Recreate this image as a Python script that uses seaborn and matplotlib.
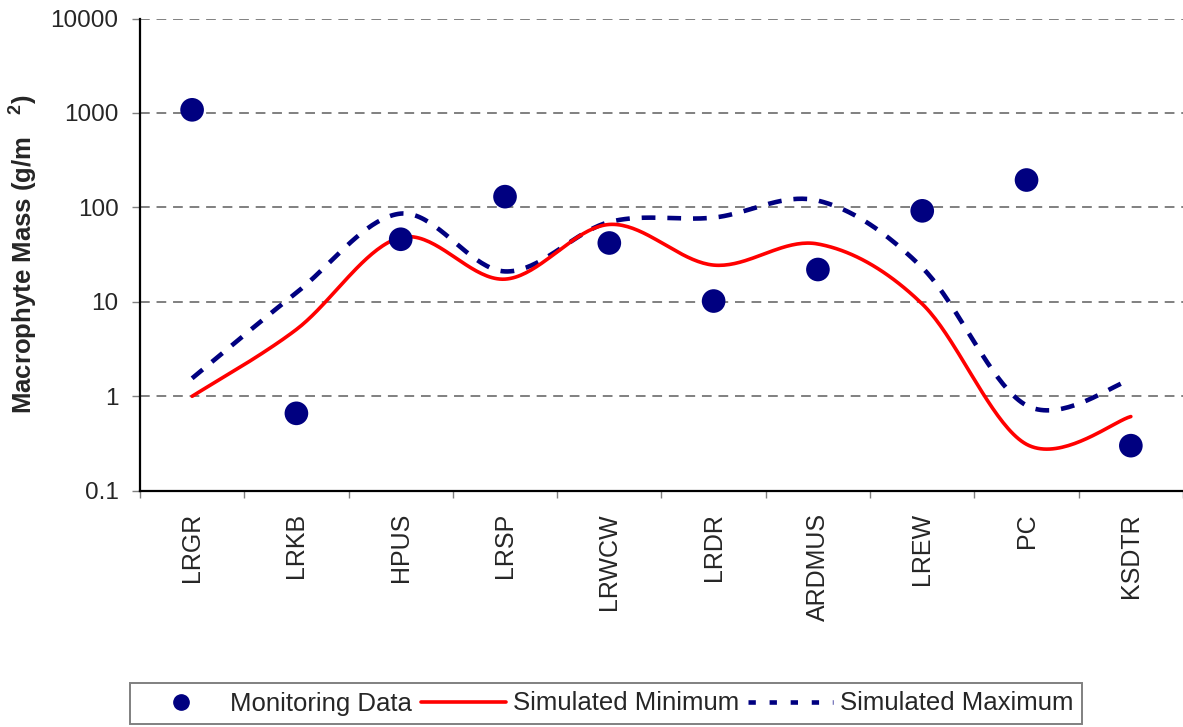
import numpy as np
import pandas as pd
import matplotlib
matplotlib.use("Agg")
import matplotlib.pyplot as plt
from matplotlib.lines import Line2D
import seaborn as sns

# Sampling sites along the river
sites = ["LRGR", "LRKB", "HPUS", "LRSP", "LRWCW", "LRDR", "ARDMUS", "LREW", "PC", "KSDTR"]

# Macrophyte mass, g/m2
monitoring = [1080, 0.66, 46, 130, 42, 10.2, 22, 92, 195, 0.30]
sim_min = [1.0, 5.1, 48, 17.4, 66, 24.5, 41, 9.5, 0.31, 0.61]
sim_max = [1.55, 12.5, 86, 21, 70, 78, 118, 23, 0.80, 1.5]

y_ticks = [0.1, 1, 10, 100, 1000, 10000]
y_ticklabels = ["0.1", "1", "10", "100", "1000", "10000"]

NAVY = "#000080"
RED = "#FF0000"


def smooth_log(values, n=40):
    """Catmull-Rom smoothing in (position, log10 value) space."""
    x = np.arange(len(values), dtype=float)
    y = np.log10(np.asarray(values, dtype=float))
    px = np.concatenate([[x[0]], x, [x[-1]]])
    py = np.concatenate([[y[0]], y, [y[-1]]])
    xs, ys = [], []
    for i in range(1, len(px) - 2):
        p0, p1, p2, p3 = (np.array([px[j], py[j]]) for j in (i - 1, i, i + 1, i + 2))
        c1 = p1 + (p2 - p0) / 6.0
        c2 = p2 - (p3 - p1) / 6.0
        t = np.linspace(0, 1, n, endpoint=(i == len(px) - 3))[:, None]
        b = ((1 - t) ** 3) * p1 + 3 * ((1 - t) ** 2) * t * c1 + 3 * (1 - t) * t ** 2 * c2 + t ** 3 * p2
        xs.append(b[:, 0])
        ys.append(b[:, 1])
    return np.concatenate(xs), 10 ** np.concatenate(ys)


sns.set_theme(style="white")
plt.rcParams["font.family"] = ["Liberation Sans", "DejaVu Sans"]
plt.rcParams["mathtext.fontset"] = "custom"
plt.rcParams["mathtext.rm"] = "Liberation Sans:bold"
plt.rcParams["mathtext.bf"] = "Liberation Sans:bold"

fig = plt.figure(figsize=(11.83, 7.27), dpi=100)
ax = fig.add_axes([0.1183, 0.325, 0.8817, 0.6495])

mx, my = smooth_log(sim_max)
nx, ny = smooth_log(sim_min)
df_max = pd.DataFrame({"x": mx, "y": my})
df_min = pd.DataFrame({"x": nx, "y": ny})
df_obs = pd.DataFrame({"x": np.arange(len(sites)), "y": monitoring})

sns.lineplot(data=df_max, x="x", y="y", ax=ax, color=NAVY, linewidth=3.3,
             sort=False, estimator=None, zorder=3)
ax.lines[-1].set_dashes([3.0, 2.6])
sns.lineplot(data=df_min, x="x", y="y", ax=ax, color=RED, linewidth=2.6,
             sort=False, estimator=None, zorder=4)
sns.scatterplot(data=df_obs, x="x", y="y", ax=ax, color=NAVY, s=290,
                edgecolor="none", zorder=5)

ax.set_yscale("log")
ax.set_ylim(0.1, 10000)
ax.set_xlim(-0.5, len(sites) - 0.5)

ax.set_yticks(y_ticks)
ax.set_yticklabels(y_ticklabels)
ax.yaxis.set_minor_locator(matplotlib.ticker.NullLocator())
ax.tick_params(axis="y", which="major", direction="out", length=5.5, width=1,
               color="#808080", pad=10, labelsize=17.5, left=True)

ax.set_xticks(np.arange(-0.5, len(sites), 1.0))
ax.set_xticklabels([])
ax.set_xticks(np.arange(len(sites)), minor=True)
ax.set_xticklabels(sites, minor=True, rotation=90, fontsize=18)
ax.tick_params(axis="x", which="major", direction="out", length=5, width=1,
               color="#808080", bottom=True)
ax.tick_params(axis="x", which="minor", length=0, pad=16)

ax.grid(False)
for v in y_ticks[1:]:
    ax.axhline(v, color="#808080", linewidth=1.4, linestyle=(0, (5, 3.5)), zorder=1)

for side in ["top", "right"]:
    ax.spines[side].set_visible(False)
for side in ["left", "bottom"]:
    ax.spines[side].set_color("black")
    ax.spines[side].set_linewidth(1.6)

ax.set_xlabel("")
ax.set_ylabel(r"Macrophyte Mass (g/m   $^{2}$)", fontsize=18.5, fontweight="bold")
ax.yaxis.set_label_coords(-0.097, 0.5)

handles = [
    Line2D([], [], color=NAVY, marker="o", linestyle="none", markersize=11),
    Line2D([], [], color=RED, linewidth=2.6),
    Line2D([], [], color=NAVY, linewidth=3.3, dashes=[1.6, 3.0]),
]
labels = ["Monitoring Data", "Simulated Minimum", "Simulated Maximum"]
leg = fig.legend(handles, labels, loc="center", ncol=3,
                 bbox_to_anchor=((127 + 1085) / 2 / 1183, 1 - 703.5 / 727),
                 fontsize=18.5, frameon=True, fancybox=False, framealpha=1,
                 edgecolor="#808080", handlelength=3.3, handletextpad=0.27,
                 columnspacing=0.35, borderpad=0.35, borderaxespad=0)
leg.get_frame().set_linewidth(1.4)

fig.savefig("out.png", dpi=100)
